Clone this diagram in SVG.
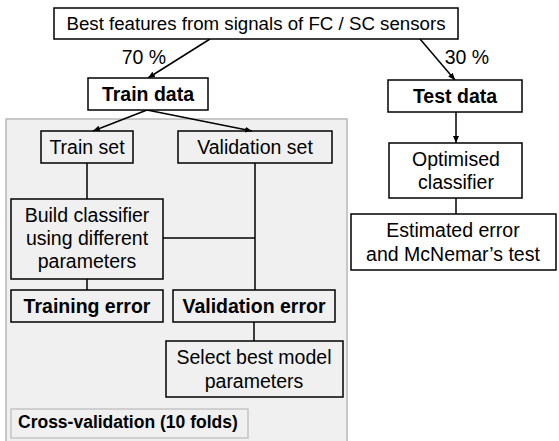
<svg xmlns="http://www.w3.org/2000/svg" width="559" height="441" viewBox="0 0 559 441">
<defs>
<marker id="ah" markerWidth="8" markerHeight="8" refX="7" refY="4" orient="auto" markerUnits="userSpaceOnUse">
<path d="M0,1 L7,4 L0,7 Z" fill="#000"/>
</marker>
<style>
.box{fill:none;stroke:#000;stroke-width:1.5}
.wbox{fill:#fff;stroke:#000;stroke-width:1.5}
.t{font-family:"Liberation Sans",Arial,sans-serif;font-size:19.5px;fill:#000;text-anchor:middle}
.b{font-weight:bold}
.ln{stroke:#000;stroke-width:1.5;fill:none}
.ar{stroke:#000;stroke-width:1.5;fill:none;marker-end:url(#ah)}
</style>
</defs>
<rect width="559" height="441" fill="#fff"/>
<g id="panel">
<rect x="6" y="119" width="341" height="330" fill="#f0f0f0" stroke="#b8b8b8" stroke-width="1.5"/>
</g>
<g id="connectors">
<line class="ar" x1="210" y1="39" x2="148" y2="78"/>
<line class="ar" x1="420" y1="39" x2="455" y2="80"/>
<line class="ar" x1="147" y1="110" x2="93" y2="131"/>
<line class="ar" x1="147" y1="110" x2="252" y2="131"/>
<line class="ln" x1="87" y1="163" x2="87" y2="199"/>
<line class="ln" x1="87" y1="279" x2="87" y2="290"/>
<line class="ln" x1="255" y1="163" x2="255" y2="290"/>
<line class="ln" x1="163" y1="238" x2="255" y2="238"/>
<line class="ln" x1="254" y1="322" x2="254" y2="341"/>
<line class="ar" x1="456" y1="112" x2="456" y2="143"/>
<line class="ln" x1="456" y1="198" x2="456" y2="214"/>
</g>
<g id="labels">
<text class="t" x="144" y="64">70 %</text>
<text class="t" x="467" y="64">30 %</text>
</g>
<g id="top">
<rect class="wbox" x="54" y="8" width="404" height="31"/>
<text class="t" x="256" y="30" style="font-size:18.7px">Best features from signals of FC / SC sensors</text>
</g>
<g id="train-data">
<rect class="wbox" x="88" y="78" width="120" height="32"/>
<text class="t b" x="148" y="101">Train data</text>
</g>
<g id="test-data">
<rect class="wbox" x="388" y="80" width="134" height="32"/>
<text class="t b" x="455" y="103">Test data</text>
</g>
<g id="train-set">
<rect class="box" x="41" y="131" width="92" height="32"/>
<text class="t" x="87" y="154">Train set</text>
</g>
<g id="validation-set">
<rect class="box" x="178" y="131" width="154" height="32"/>
<text class="t" x="255" y="154">Validation set</text>
</g>
<g id="build-classifier">
<rect class="box" x="11" y="199" width="152" height="80"/>
<text class="t" x="87" y="222">Build classifier</text>
<text class="t" x="87" y="245">using different</text>
<text class="t" x="87" y="268">parameters</text>
</g>
<g id="training-error">
<rect class="box" x="11" y="290" width="152" height="32"/>
<text class="t b" x="87" y="313">Training error</text>
</g>
<g id="validation-error">
<rect class="box" x="173" y="290" width="162" height="32"/>
<text class="t b" x="254" y="313">Validation error</text>
</g>
<g id="select-best">
<rect class="box" x="166" y="341" width="177" height="56"/>
<text class="t" x="254" y="364">Select best model</text>
<text class="t" x="254" y="388">parameters</text>
</g>
<g id="cross-validation">
<rect x="11" y="409" width="237" height="29" fill="#f0f0f0" stroke="#c4c4c4" stroke-width="1.5"/>
<text class="t b" x="18" y="428" style="text-anchor:start;font-size:17.5px">Cross-validation (10 folds)</text>
</g>
<g id="optimised">
<rect class="wbox" x="389" y="143" width="133" height="55"/>
<text class="t" x="456" y="166">Optimised</text>
<text class="t" x="456" y="189">classifier</text>
</g>
<g id="estimated">
<rect class="wbox" x="351" y="214" width="205" height="56"/>
<text class="t" x="453" y="237">Estimated error</text>
<text class="t" x="453" y="261">and McNemar’s test</text>
</g>
</svg>
